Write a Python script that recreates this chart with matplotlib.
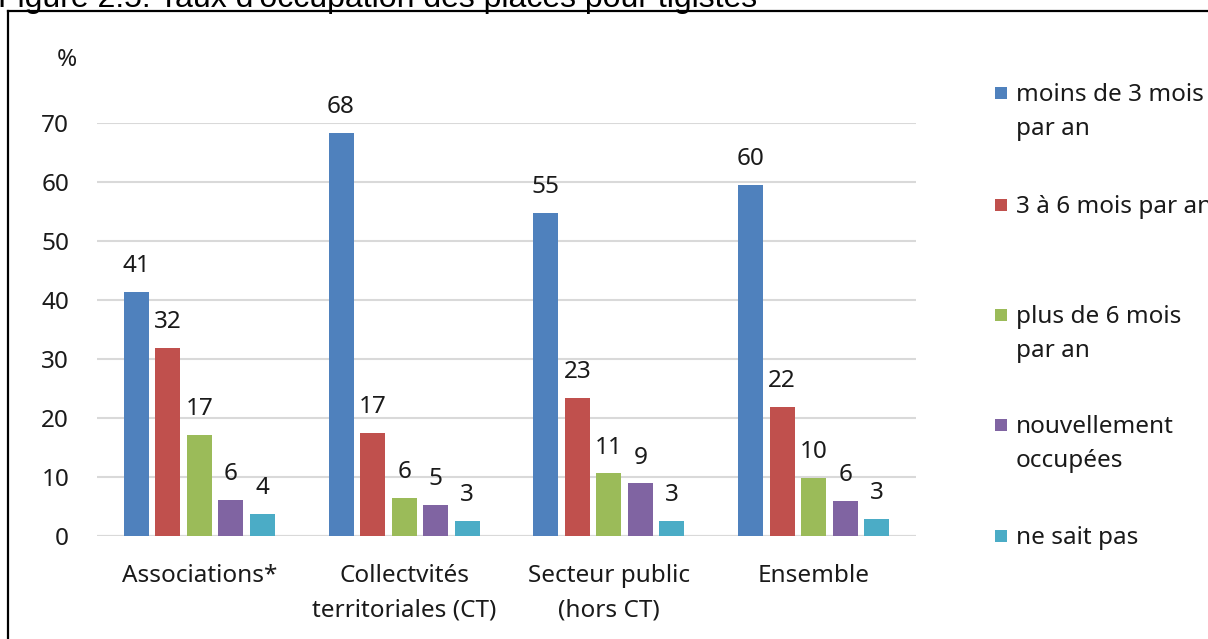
import numpy as np
import matplotlib
matplotlib.use("Agg")
import matplotlib.pyplot as plt
from matplotlib.patches import Rectangle
from matplotlib.lines import Line2D

# data
categories = ["Associations*", "Collectvités\nterritoriales (CT)", "Secteur public\n(hors CT)", "Ensemble"]
series = ["moins de 3 mois\npar an", "3 à 6 mois par an", "plus de 6 mois\npar an",
          "nouvellement\noccupées", "ne sait pas"]
moins_3 = [41.3, 68.3, 54.7, 59.5]
de_3_a_6 = [31.8, 17.4, 23.4, 21.9]
plus_6 = [17.2, 6.5, 10.6, 9.8]
nouvelles = [6.1, 5.2, 8.9, 5.9]
ne_sait_pas = [3.8, 2.6, 2.6, 2.9]
labels = [[41, 68, 55, 60], [32, 17, 23, 22], [17, 6, 11, 10], [6, 5, 9, 6], [4, 3, 3, 3]]
colors = ["#4F81BD", "#C0504D", "#9BBB59", "#8064A2", "#4BACC6"]

values = [moins_3, de_3_a_6, plus_6, nouvelles, ne_sait_pas]

W, H = 1208, 639
fig = plt.figure(figsize=(W / 100, H / 100), dpi=100)
plt.rcParams['font.family'] = ['Noto Sans', 'DejaVu Sans']
txt = "#1a1a1a"
fs = 17.5

# cut-off title and frame
fig.text(-2 / W, 1 - 7 / H, "Figure 2.5. Taux d'occupation des places pour tigistes",
         family="Liberation Sans", fontsize=23, color="black", va="baseline", ha="left")
fig.add_artist(Line2D([8 / W, 1.01], [1 - 11 / H, 1 - 11 / H], color="black", lw=1.6,
                      transform=fig.transFigure))
fig.add_artist(Line2D([8 / W, 8 / W], [1 - 11 / H, -0.01], color="black", lw=1.6,
                      transform=fig.transFigure))

ax = fig.add_axes([97 / W, 1 - 536 / H, 819 / W, 413 / H])
x = np.arange(len(categories))
step, bw = 0.154, 0.122
for i, (vals, col) in enumerate(zip(values, colors)):
    pos = x + (i - 2) * step
    bars = ax.bar(pos, vals, width=bw, color=col, zorder=3)
    for b, lab in zip(bars, labels[i]):
        ax.annotate(str(lab), (b.get_x() + b.get_width() / 2, b.get_height()),
                    xytext=(0, 10), textcoords="offset points", ha="center", va="bottom",
                    fontsize=fs, color=txt, annotation_clip=False)

ax.set_xlim(-0.5, 3.5)
ax.set_ylim(0, 70)
ax.set_yticks(range(0, 71, 10))
ax.yaxis.grid(True, color="#d9d9d9", lw=1.5, zorder=0)
ax.tick_params(axis="y", length=0, pad=20, labelsize=fs, labelcolor=txt)
ax.set_xticks(x)
ax.set_xticklabels(categories, fontsize=fs, color=txt, linespacing=1.6)
ax.tick_params(axis="x", length=0, pad=20)
for s in ax.spines.values():
    s.set_visible(False)
ax.axhline(0, color="#d9d9d9", lw=1.5, zorder=2)
fig.text(67 / W, 1 - 60 / H, "%", ha="center", va="center", fontsize=fs, color=txt)

# legend drawn by hand
leg_y = [93, 205, 315, 425, 536]
for name, col, yy in zip(series, colors, leg_y):
    fig.add_artist(Rectangle((995 / W, 1 - (yy + 6) / H), 12 / W, 12 / H,
                             facecolor=col, edgecolor="none", transform=fig.transFigure))
    fig.text(1016 / W, 1 - (yy - 10) / H, name, fontsize=fs, color=txt, va="top", ha="left",
             linespacing=1.55)

fig.savefig("out.png", dpi=100)
